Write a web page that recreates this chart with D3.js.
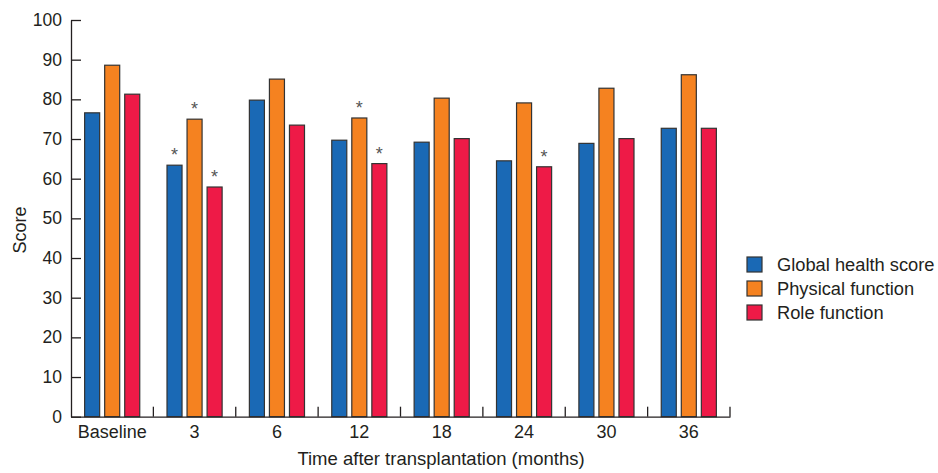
<!DOCTYPE html>
<html><head><meta charset="utf-8">
<script src="https://cdn.jsdelivr.net/npm/d3@7"></script>
<style>body{margin:0;background:#fff}svg{display:block}text{font-family:"Liberation Sans",Arial,Helvetica,sans-serif;fill:#231f20}</style>
</head><body><svg id="c" width="938" height="473"></svg>
<script>
const categories = ["Baseline","3","6","12","18","24","30","36"];
const seriesNames = ["Global health score","Physical function","Role function"];
const globalHealth = [76.6,63.4,79.8,69.7,69.2,64.5,68.9,72.7];
const physicalFunction = [88.6,75.0,85.1,75.3,80.3,79.1,82.8,86.2];
const roleFunction = [81.3,57.9,73.5,63.8,70.1,63.0,70.1,72.7];
const significant = [[false,true,false,false,false,false,false,false],[false,true,false,true,false,false,false,false],[false,true,false,true,false,true,false,false]];
const yTicks = [0,10,20,30,40,50,60,70,80,90,100];
const colors = ["#1a69b5","#f58220","#ee1a47"];
const seriesValues = [globalHealth, physicalFunction, roleFunction];

const svg = d3.select("#c");
const mLeft = 71, mRight = 730, mTop = 20, mBottom = 416.7;
const x0 = d3.scaleBand().domain(categories).range([mLeft,mRight]).padding(0);
const x1 = d3.scaleBand().domain(d3.range(3)).range([0,x0.bandwidth()]).paddingInner(0.25).paddingOuter(0.68);
const y = d3.scaleLinear().domain([0,100]).range([mBottom,mTop]);

// bars
categories.forEach((c,i)=>{
  seriesValues.forEach((vals,s)=>{
    svg.append("rect")
      .attr("x", x0(c)+x1(s)).attr("y", y(vals[i]))
      .attr("width", x1.bandwidth()).attr("height", y(0)-y(vals[i]))
      .attr("fill", colors[s]).attr("stroke","#333").attr("stroke-width",1.2);
    if (significant[s][i]) {
      svg.append("text").attr("x", x0(c)+x1(s)+x1.bandwidth()/2).attr("y", y(vals[i])-4)
        .attr("text-anchor","middle").attr("font-size",18).style("fill","#555").text("*");
    }
  });
});

// y axis
const yAxis = d3.axisLeft(y).tickValues(yTicks).tickSize(-10).tickPadding(9).tickSizeOuter(0);
const gy = svg.append("g").attr("transform",`translate(${mLeft},0)`).call(yAxis);
gy.selectAll("text").attr("font-size",17.5).style("fill","#231f20");
gy.selectAll("line, path").attr("stroke","#231f20").attr("stroke-width",1.3);

// x axis
const xAxis = d3.axisBottom(x0).tickSize(0).tickPadding(8.5);
const gx = svg.append("g").attr("transform",`translate(0,${mBottom})`).call(xAxis);
gx.selectAll("text").attr("font-size",18).style("fill","#231f20");
gx.select("path").attr("stroke","#231f20").attr("stroke-width",1.3);
// separator ticks
categories.forEach(c=>{
  svg.append("line").attr("x1",x0(c)+x0.bandwidth()).attr("x2",x0(c)+x0.bandwidth())
    .attr("y1",mBottom).attr("y2",mBottom-10).attr("stroke","#231f20").attr("stroke-width",1.3);
});

svg.append("text").attr("x",441).attr("y",465).attr("text-anchor","middle").attr("font-size",18.5).text("Time after transplantation (months)");
svg.append("text").attr("transform","translate(26,230) rotate(-90)").attr("text-anchor","middle").attr("font-size",18).text("Score");

// legend
const lg = svg.append("g").attr("transform","translate(747,257)");
seriesNames.forEach((n,i)=>{
  lg.append("rect").attr("x",0).attr("y",i*24).attr("width",15).attr("height",15).attr("fill",colors[i]).attr("stroke","#333").attr("stroke-width",1.2);
  lg.append("text").attr("x",30).attr("y",i*24+14).attr("font-size",18.3).text(n);
});
</script></body></html>
